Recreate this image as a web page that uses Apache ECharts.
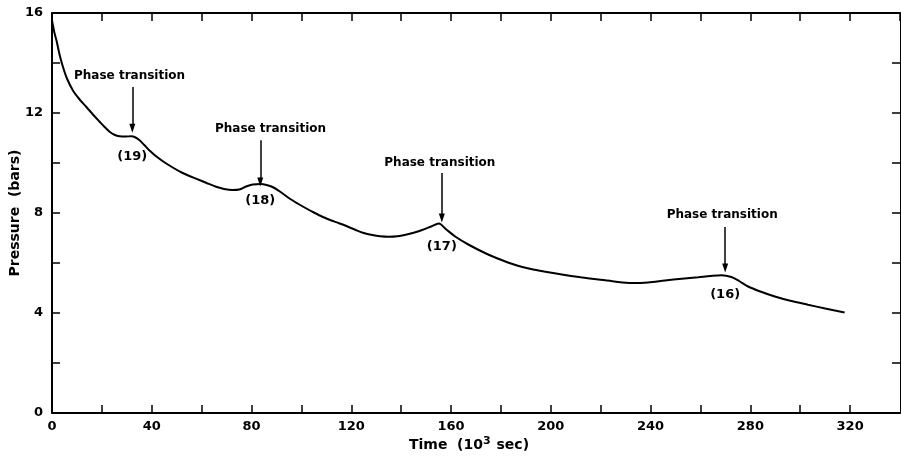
<!DOCTYPE html>
<html>
<head>
<meta charset="utf-8">
<script src="https://cdn.jsdelivr.net/npm/echarts@6/dist/echarts.min.js"></script>
<style>html,body{margin:0;padding:0;background:#fff;}#c{width:901px;height:462px;}</style>
</head>
<body>
<div id="c"></div>
<script>
// Time (10^3 sec)
const times = [0, 1, 1.8, 3, 4.4, 6, 8.4, 11, 13.8, 16.5, 19.1, 21, 23.1, 25, 27.1, 29.5, 31.8, 33.5, 35.1, 37, 39.1, 42, 45.8, 52, 59.1, 62, 65.8, 69, 72.4, 75.1, 77.8, 80.5, 83.8, 86, 88.4, 91.5, 95.1, 98.5, 101.8, 105, 108.4, 111.5, 115.1, 118.5, 121.8, 125, 128.4, 131.5, 135.1, 138.5, 141.8, 145, 148.4, 152, 155.1, 158, 161.8, 167.1, 173.8, 180, 185.8, 192, 197.8, 205, 212, 219.1, 225.5, 232.4, 239, 245.8, 252.5, 259.1, 264, 268.4, 272.4, 275.5, 279.1, 284, 289.8, 296, 303.1, 310, 317.8];
// Pressure (bars)
const pressures = [15.7, 15.2, 14.9, 14.35, 13.84, 13.38, 12.9, 12.55, 12.24, 11.93, 11.65, 11.45, 11.25, 11.13, 11.07, 11.06, 11.07, 11.02, 10.91, 10.72, 10.5, 10.25, 9.98, 9.62, 9.32, 9.2, 9.05, 8.96, 8.92, 8.94, 9.06, 9.14, 9.16, 9.12, 9.04, 8.85, 8.59, 8.38, 8.19, 8.02, 7.85, 7.72, 7.59, 7.46, 7.32, 7.2, 7.12, 7.07, 7.05, 7.07, 7.13, 7.21, 7.32, 7.46, 7.58, 7.35, 7.05, 6.73, 6.39, 6.13, 5.92, 5.76, 5.65, 5.53, 5.43, 5.34, 5.26, 5.2, 5.22, 5.3, 5.37, 5.43, 5.48, 5.51, 5.44, 5.28, 5.06, 4.86, 4.66, 4.49, 4.33, 4.18, 4.02];

// Phase transitions
const phaseX = [32.2, 83.5, 156.3, 269.9];
const arrowTop = [13.04, 10.91, 9.6, 7.44];
const arrowBottom = [11.39, 9.24, 7.8, 5.8];
const textX = [31.1, 87.6, 155.5, 268.7];
const textY = [13.5, 11.35, 9.99, 7.92];
const stateY = [10.24, 8.48, 6.64, 4.72];
const stateLabels = ['(19)', '(18)', '(17)', '(16)'];
const phaseText = 'Phase transition';

const xTickLabels = [0, 40, 80, 120, 160, 200, 240, 280, 320];
const yTickLabels = [0, 4, 8, 12, 16];

const FONT = 'DejaVu Sans';
const INK = '#000';

const chart = echarts.init(document.getElementById('c'), null, {renderer: 'canvas'});

const lineData = times.map((t, i) => [t, pressures[i]]);
const textData = textX.map((x, i) => ({value: [x, textY[i]], label: {formatter: phaseText}}));
const stateData = phaseX.map((x, i) => ({value: [x, stateY[i]], label: {formatter: stateLabels[i]}}));
const arrows = phaseX.map((x, i) => [{coord: [x, arrowTop[i]]}, {coord: [x, arrowBottom[i]]}]);

chart.setOption({
  animation: false,
  backgroundColor: '#fff',
  grid: {left: 52, right: 1, top: 13, bottom: 49, containLabel: false, outerBoundsMode: 'none'},
  xAxis: [{
    type: 'value', position: 'bottom', min: 0, max: 340, interval: 20,
    name: 'Time  (10{sup|3} sec)', nameLocation: 'middle', nameGap: 23, nameMoveOverlap: false,
    nameTextStyle: {
      fontFamily: FONT, fontSize: 14, fontWeight: 'bold', color: INK, padding: [0, 14, 0, 0],
      rich: {sup: {fontFamily: FONT, fontSize: 11, fontWeight: 'bold', color: INK, padding: [0, 1, 7, 0]}}
    },
    axisLine: {show: true, onZero: false, lineStyle: {color: INK, width: 2}},
    axisTick: {show: true, inside: true, length: 8, lineStyle: {color: INK, width: 1.5}},
    axisLabel: {
      fontFamily: FONT, fontSize: 13, fontWeight: 'bold', color: INK, margin: 7, showMaxLabel: false,
      formatter: v => xTickLabels.indexOf(v) >= 0 ? String(v) : ''
    },
    splitLine: {show: false}
  }, {
    type: 'value', position: 'top', min: 0, max: 340, interval: 20,
    axisLine: {show: true, onZero: false, lineStyle: {color: INK, width: 2}},
    axisTick: {show: true, inside: true, length: 8, lineStyle: {color: INK, width: 1.5}},
    axisLabel: {show: false},
    splitLine: {show: false}
  }],
  yAxis: [{
    type: 'value', position: 'left', min: 0, max: 16, interval: 2,
    name: 'Pressure  (bars)', nameLocation: 'middle', nameGap: 30, nameRotate: 90, nameMoveOverlap: false,
    nameTextStyle: {fontFamily: FONT, fontSize: 14, fontWeight: 'bold', color: INK},
    axisLine: {show: true, onZero: false, lineStyle: {color: INK, width: 2}},
    axisTick: {show: true, inside: true, length: 8, lineStyle: {color: INK, width: 1.5}},
    axisLabel: {
      fontFamily: FONT, fontSize: 13, fontWeight: 'bold', color: INK, margin: 9,
      formatter: v => yTickLabels.indexOf(v) >= 0 ? String(v) : ''
    },
    splitLine: {show: false}
  }, {
    type: 'value', position: 'right', min: 0, max: 16, interval: 2,
    axisLine: {show: true, onZero: false, lineStyle: {color: INK, width: 1}},
    axisTick: {show: true, inside: true, length: 8, lineStyle: {color: INK, width: 1.5}},
    axisLabel: {show: false},
    splitLine: {show: false}
  }],
  series: [{
    type: 'line', data: lineData, showSymbol: false, symbol: 'none', smooth: 0.3,
    lineStyle: {color: INK, width: 2},
    markLine: {
      silent: true, symbol: ['none', 'triangle'], symbolSize: [6, 9], symbolRotate: 180,
      label: {show: false},
      lineStyle: {color: INK, width: 1.5, type: 'solid'},
      data: arrows
    }
  }, {
    type: 'scatter', data: textData, symbolSize: 0, silent: true,
    itemStyle: {opacity: 1, color: INK},
    label: {show: true, position: 'inside', fontFamily: FONT, fontSize: 12, fontWeight: 'bold', color: INK, opacity: 1}
  }, {
    type: 'scatter', data: stateData, symbolSize: 0, silent: true,
    itemStyle: {opacity: 1, color: INK},
    label: {show: true, position: 'inside', fontFamily: FONT, fontSize: 13, fontWeight: 'bold', color: INK, opacity: 1}
  }]
});
</script>
</body>
</html>
